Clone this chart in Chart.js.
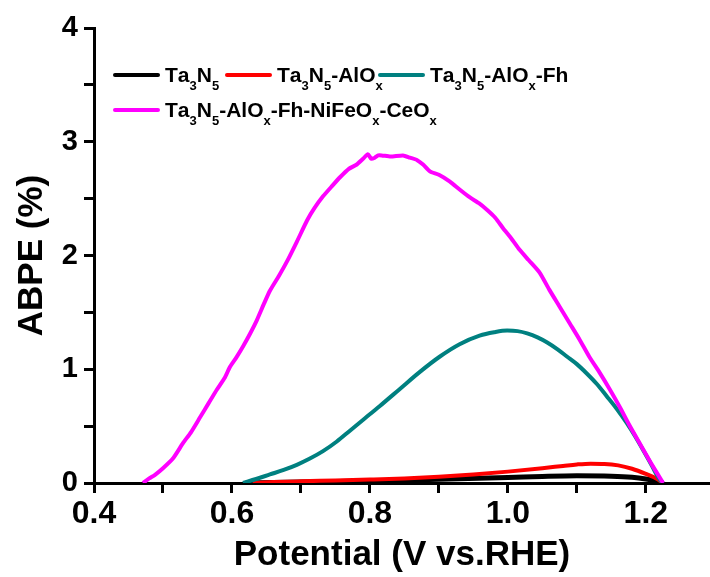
<!DOCTYPE html>
<html><head><meta charset="utf-8">
<script src="https://cdn.jsdelivr.net/npm/chart.js@4"></script>
<style>html,body{margin:0;padding:0;background:#fff}#wrap{width:710px;height:577px}</style>
</head><body><div id="wrap"><canvas id="c" width="710" height="577"></canvas></div>
<script>
const seriesLabels = ["Ta_3N_5", "Ta_3N_5-AlO_x", "Ta_3N_5-AlO_x-Fh", "Ta_3N_5-AlO_x-Fh-NiFeO_x-CeO_x"];
const seriesColors = ["#000000", "#ff0000", "#008080", "#ff00ff"];

const ta3n5V = [0.620,0.700,0.800,0.900,1.000,1.050,1.100,1.150,1.180,1.200,1.215,1.225];
const ta3n5Y = [0,0.008,0.018,0.032,0.048,0.058,0.064,0.060,0.050,0.035,0.018,0];

const aloxV = [0.630,0.660,0.700,0.750,0.800,0.850,0.900,0.950,1.000,1.050,1.080,1.100,1.120,1.140,1.160,1.180,1.200,1.215,1.225];
const aloxY = [0,0.008,0.015,0.022,0.030,0.040,0.055,0.075,0.100,0.130,0.150,0.163,0.170,0.168,0.155,0.125,0.080,0.040,0];

const fhV = [0.616,0.635,0.655,0.675,0.694,0.713,0.732,0.752,0.771,0.792,0.814,0.843,0.872,0.901,0.930,0.959,0.980,0.999,1.014,1.028,1.043,1.057,1.072,1.086,1.100,1.114,1.129,1.143,1.158,1.172,1.184,1.196,1.208,1.220,1.225];
const fhY = [0,0.035,0.075,0.115,0.16,0.215,0.28,0.365,0.46,0.565,0.675,0.825,0.975,1.11,1.22,1.295,1.325,1.34,1.335,1.315,1.28,1.235,1.175,1.11,1.045,0.965,0.87,0.765,0.65,0.53,0.415,0.29,0.16,0.03,0];

const ceoxV = [0.471,0.480,0.488,0.500,0.515,0.529,0.541,0.554,0.566,0.578,0.590,0.597,0.606,0.616,0.626,0.636,0.646,0.655,0.668,0.680,0.694,0.709,0.720,0.732,0.745,0.757,0.769,0.781,0.790,0.797,0.802,0.807,0.812,0.817,0.830,0.848,0.858,0.868,0.877,0.887,0.900,0.916,0.930,0.945,0.958,0.970,0.982,0.993,1.005,1.017,1.030,1.046,1.060,1.075,1.090,1.104,1.118,1.133,1.148,1.162,1.176,1.191,1.208,1.225];
const ceoxY = [0,0.04,0.07,0.13,0.22,0.35,0.45,0.58,0.70,0.82,0.93,1.02,1.10,1.20,1.31,1.43,1.57,1.69,1.82,1.95,2.12,2.31,2.42,2.52,2.61,2.69,2.76,2.80,2.85,2.89,2.85,2.86,2.88,2.88,2.87,2.88,2.86,2.84,2.80,2.74,2.71,2.65,2.58,2.51,2.46,2.40,2.33,2.24,2.15,2.05,1.96,1.85,1.70,1.55,1.40,1.26,1.11,0.97,0.82,0.67,0.51,0.35,0.17,0.0];

const xTickLabels = ["0.4","0.6","0.8","1.0","1.2"];
const yTickLabels = ["0","1","2","3","4"];

const seriesX = [ta3n5V, aloxV, fhV, ceoxV];
const seriesY = [ta3n5Y, aloxY, fhY, ceoxY];
const pts = (xs, ys) => xs.map((x, i) => ({x: x, y: ys[i]}));

const FONT = "'Liberation Sans', Arial, sans-serif";

function drawRich(ctx, text, x, y, size) {
  let cx = x;
  for (let i = 0; i < text.length; i++) {
    let ch = text[i];
    if (ch === '_' && i + 1 < text.length) {
      const s = text[i + 1]; i++;
      ctx.font = "bold " + Math.round(size * 0.6) + "px " + FONT;
      ctx.fillText(s, cx, y + size * 0.38);
      cx += ctx.measureText(s).width;
    } else {
      ctx.font = "bold " + size + "px " + FONT;
      ctx.fillText(ch, cx, y);
      cx += ctx.measureText(ch).width;
    }
  }
  return cx;
}

const legendPlugin = {
  id: 'richLegend',
  afterDraw(chart) {
    const ctx = chart.ctx;
    ctx.save();
    ctx.textBaseline = 'alphabetic';
    const pos = [[115, 75], [227, 75], [380, 75], [115, 110]];
    seriesLabels.forEach((lab, i) => {
      const [x, y] = pos[i];
      ctx.strokeStyle = seriesColors[i];
      ctx.lineWidth = 4;
      ctx.lineCap = 'round';
      ctx.beginPath(); ctx.moveTo(x, y); ctx.lineTo(x + 43, y); ctx.stroke();
      ctx.fillStyle = '#000';
      drawRich(ctx, lab, x + 50, y + 7, 21);
    });
    ctx.restore();
  }
};

const order = [4, 3, 2, 1];
new Chart(document.getElementById('c'), {
  type: 'line',
  data: {
    datasets: seriesLabels.map((lab, i) => ({
      label: lab,
      data: pts(seriesX[i], seriesY[i]),
      borderColor: seriesColors[i],
      borderWidth: i === 0 ? 5 : 4,
      pointRadius: 0,
      tension: i === 3 ? 0.2 : 0.4,
      cubicInterpolationMode: i === 3 ? 'default' : 'monotone',
      fill: false,
      order: order[i]
    }))
  },
  options: {
    responsive: false,
    animation: false,
    layout: {padding: {top: 28, right: 0, left: 0, bottom: 0}},
    plugins: {legend: {display: false}, tooltip: {enabled: false}},
    scales: {
      x: {
        type: 'linear', min: 0.4, max: 1.293,
        afterFit(s) { s.height = 94; },
        border: {display: true, color: '#000', width: 3},
        grid: {display: true, drawOnChartArea: false, drawTicks: true, tickLength: 10, tickWidth: 3, color: '#000'},
        ticks: {
          stepSize: 0.1, includeBounds: false, autoSkip: false, maxRotation: 0,
          color: '#000', padding: 2,
          font: {family: FONT, size: 32, weight: 'bold'},
          callback(v) {
            const k = Math.round((v - 0.4) * 10);
            return k % 2 === 0 ? xTickLabels[k / 2] : '';
          }
        },
        title: {display: true, text: 'Potential (V vs.RHE)', color: '#000',
          font: {family: FONT, size: 35, weight: 'bold'}, padding: {top: 0, bottom: 1}}
      },
      y: {
        type: 'linear', min: 0, max: 4,
        afterFit(s) { s.width = 94; },
        border: {display: true, color: '#000', width: 3},
        grid: {display: true, drawOnChartArea: false, drawTicks: true, tickLength: 10, tickWidth: 3, color: '#000'},
        ticks: {
          stepSize: 0.5, autoSkip: false, color: '#000', padding: 6,
          font: {family: FONT, size: 29, weight: 'bold'},
          callback(v) { return Number.isInteger(v) ? yTickLabels[v] : ''; }
        },
        title: {display: true, text: 'ABPE (%)', color: '#000',
          font: {family: FONT, size: 35, weight: 'bold'}, padding: {top: 11, bottom: 0}}
      }
    }
  },
  plugins: [legendPlugin]
});
</script>
</body></html>
